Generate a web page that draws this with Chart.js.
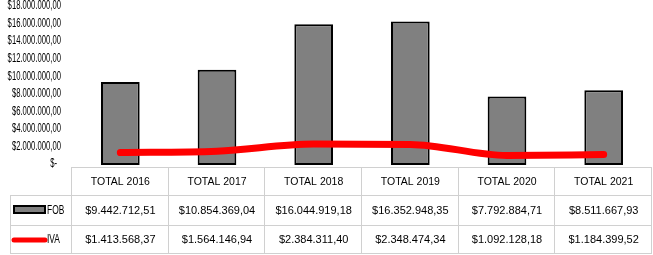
<!DOCTYPE html>
<html>
<head>
<meta charset="utf-8">
<script src="https://cdn.jsdelivr.net/npm/chart.js@4"></script>
<style>
  html, body { margin: 0; padding: 0; background: #fff; }
  #wrap { width: 653px; height: 255px; position: relative; }
</style>
</head>
<body>
<div id="wrap"><canvas id="chart"></canvas></div>
<script>
// ── Data ──────────────────────────────────────────────────────────────────
const years = ['TOTAL 2016', 'TOTAL 2017', 'TOTAL 2018', 'TOTAL 2019', 'TOTAL 2020', 'TOTAL 2021'];
const fob = [9442712.51, 10854369.04, 16044919.18, 16352948.35, 7792884.71, 8511667.93];
const iva = [1413568.37, 1564146.94, 2384311.40, 2348474.34, 1092128.18, 1184399.52];

const FONT = '"Liberation Sans", Arial, sans-serif';

// 1234567.8 -> "$1.234.567,80"
function money(v) {
    if (v === 0) return '$-';
    const parts = v.toFixed(2).split('.');
    const int = parts[0].replace(/\B(?=(\d{3})+(?!\d))/g, '.');
    return '$' + int + ',' + parts[1];
}

// ── Condensed y axis labels (narrow font look) ────────────────────────────
const yLabels = {
    id: 'yLabels',
    afterDraw(chart) {
        const ctx = chart.ctx;
        const ys = chart.scales.y;
        const right = chart.chartArea.left - 11;
        ctx.save();
        ctx.fillStyle = '#000';
        ctx.font = '12px ' + FONT;
        ctx.textAlign = 'right';
        ctx.textBaseline = 'middle';
        ys.ticks.forEach(t => {
            const y = ys.getPixelForValue(t.value);
            const r = t.value === 0 ? right - 4 : right;
            ctx.save();
            ctx.translate(r, y - 1);
            ctx.scale(0.64, 1);
            ctx.fillText(money(t.value), 0, 0);
            ctx.restore();
        });
        ctx.restore();
    }
};

// ── Data table under the plot ─────────────────────────────────────────────
const dataTable = {
    id: 'dataTable',
    afterDraw(chart) {
        const ctx = chart.ctx;
        const area = chart.chartArea;
        const n = years.length;
        const colW = (area.right - area.left) / n;
        const top = area.bottom + 2;
        const rows = [top, top + 28, top + 58, top + 86];
        const leftEdge = 10;

        ctx.save();
        ctx.strokeStyle = '#d0d0d0';
        ctx.lineWidth = 1;
        ctx.beginPath();
        ctx.moveTo(area.left, rows[0] + 0.5); ctx.lineTo(area.right, rows[0] + 0.5);
        for (let r = 1; r < rows.length; r++) {
            ctx.moveTo(leftEdge, rows[r] + 0.5); ctx.lineTo(area.right, rows[r] + 0.5);
        }
        for (let i = 0; i <= n; i++) {
            const x = Math.round(area.left + i * colW) - 0.5;
            ctx.moveTo(x, rows[0]); ctx.lineTo(x, rows[3]);
        }
        ctx.moveTo(leftEdge + 0.5, rows[1]); ctx.lineTo(leftEdge + 0.5, rows[3]);
        ctx.stroke();

        ctx.fillStyle = '#000';
        ctx.textAlign = 'center';
        ctx.textBaseline = 'middle';
        for (let i = 0; i < n; i++) {
            const cx = area.left + (i + 0.5) * colW;
            ctx.font = '10.5px ' + FONT;
            ctx.fillText(years[i], cx, (rows[0] + rows[1]) / 2 + 1);
            ctx.font = '11px ' + FONT;
            ctx.fillText(money(fob[i]), cx, (rows[1] + rows[2]) / 2 + 1);
            ctx.fillText(money(iva[i]), cx, (rows[2] + rows[3]) / 2 + 1);
        }

        // legend keys
        const y1 = (rows[1] + rows[2]) / 2;
        const y2 = (rows[2] + rows[3]) / 2;
        ctx.fillStyle = '#808080';
        ctx.fillRect(14, y1 - 4, 31, 7);
        ctx.strokeStyle = '#000';
        ctx.lineWidth = 2;
        ctx.strokeRect(14, y1 - 4, 31, 7);
        ctx.strokeStyle = '#ff0000';
        ctx.lineWidth = 5;
        ctx.lineCap = 'round';
        ctx.beginPath();
        ctx.moveTo(14, y2 + 1); ctx.lineTo(45, y2 + 1);
        ctx.stroke();

        ctx.fillStyle = '#000';
        ctx.textAlign = 'left';
        ctx.font = '12px ' + FONT;
        ctx.save();
        ctx.translate(47, y1 + 1); ctx.scale(0.7, 1); ctx.fillText('FOB', 0, 0);
        ctx.restore();
        ctx.save();
        ctx.translate(47, y2 + 1); ctx.scale(0.7, 1); ctx.fillText('IVA', 0, 0);
        ctx.restore();
        ctx.restore();
    }
};

// ── Chart ─────────────────────────────────────────────────────────────────
new Chart(document.getElementById('chart').getContext('2d'), {
    type: 'bar',
    data: {
        labels: years,
        datasets: [{
            type: 'line',
            label: 'IVA',
            data: iva,
            borderColor: '#ff0000',
            borderWidth: 7,
            cubicInterpolationMode: 'monotone',
            pointRadius: 0,
            borderCapStyle: 'round',
            fill: false,
            order: 0
        }, {
            label: 'FOB',
            data: fob,
            backgroundColor: '#808080',
            borderColor: '#000000',
            borderWidth: 2,
            borderSkipped: false,
            barPercentage: 0.4,
            categoryPercentage: 1,
            order: 1
        }]
    },
    options: {
        responsive: true,
        maintainAspectRatio: false,
        animation: false,
        layout: { padding: { top: 7, bottom: 90, right: 1, left: 0 } },
        plugins: {
            legend: { display: false },
            tooltip: { enabled: false }
        },
        scales: {
            x: {
                display: false,
                offset: true
            },
            y: {
                min: 0,
                max: 18000000,
                afterFit: s => { s.width = 72; },
                border: { display: false },
                grid: { display: false, drawTicks: false },
                ticks: { stepSize: 2000000, display: false }
            }
        }
    },
    plugins: [dataTable, yLabels]
});
</script>
</body>
</html>
